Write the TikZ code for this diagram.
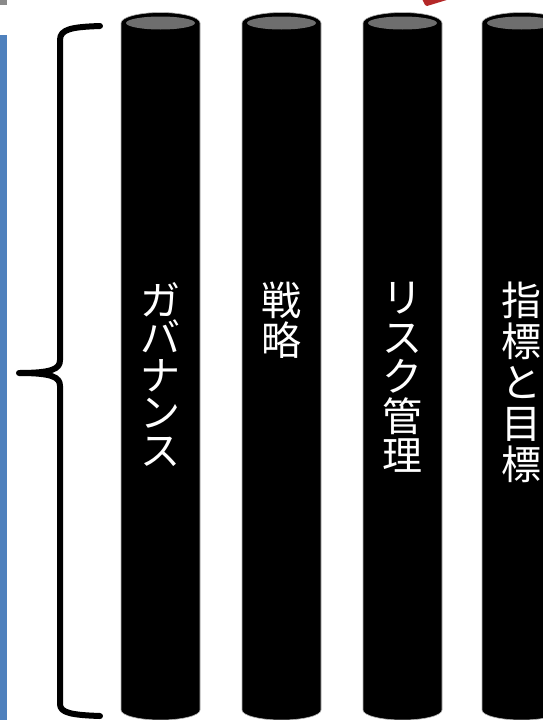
\documentclass[tikz,border=0pt]{standalone}
\usepackage{fontspec}
\newfontfamily\jpfont{Noto Sans CJK JP}
\definecolor{barblue}{RGB}{79,129,189}
\definecolor{capgray}{RGB}{110,110,110}
\definecolor{cornergray}{RGB}{138,138,138}
\definecolor{arrowred}{RGB}{180,40,40}
\begin{document}
\begin{tikzpicture}[x=1pt,y=-1pt,
  pillar/.style={fill=black,draw=gray!60,line width=0.6pt},
  lbl/.style={anchor=north,inner sep=0pt,text=white,align=center},
  bracepath/.style={draw=black,line width=6pt,line cap=round,line join=round}]
\useasboundingbox (0,0) rectangle (543,720);
\clip (0,0) rectangle (543,720);
% left edge decorations
\fill[cornergray] (0,0) rectangle (7,5);
\fill[barblue] (0,35) rectangle (7,720);
\fill[arrowred] (422.5,0) -- (425,5) -- (427,6) -- (446.7,0) -- cycle;
% pillars
\foreach \L in {121,242,363,482} {
  \path[pillar] (\L,23) -- (\L,710)
    arc[start angle=180,end angle=0,x radius=39.5,y radius=10]
    -- (\L+79,23)
    arc[start angle=0,end angle=-180,x radius=39.5,y radius=10.5] -- cycle;
  \fill[capgray] (\L+39.5,23) ellipse[x radius=34.5,y radius=6.5];
}
% labels
\node[lbl,font=\jpfont\fontsize{40}{37.5}\selectfont] (gov) at (160.5,282) {ガ\\バ\\ナ\\ン\\ス};
\node[lbl,font=\jpfont\fontsize{40}{40}\selectfont] (str) at (281.5,282) {戦\\略};
\node[lbl,font=\jpfont\fontsize{40}{39.5}\selectfont] (risk) at (402.5,282) {リ\\ス\\ク\\管\\理};
\node[lbl,font=\jpfont\fontsize{40}{41}\selectfont] (met) at (521.5,282) {指\\標\\と\\目\\標};
% brace
\path[bracepath] (100,26) .. controls (72,27) and (60,29) .. (60,40)
  -- (60,360) .. controls (60,369) and (52,373) .. (19,373)
  .. controls (52,373) and (60,377) .. (60,386)
  -- (60,704) .. controls (60,713) and (72,715) .. (100,716);
\end{tikzpicture}
\end{document}
